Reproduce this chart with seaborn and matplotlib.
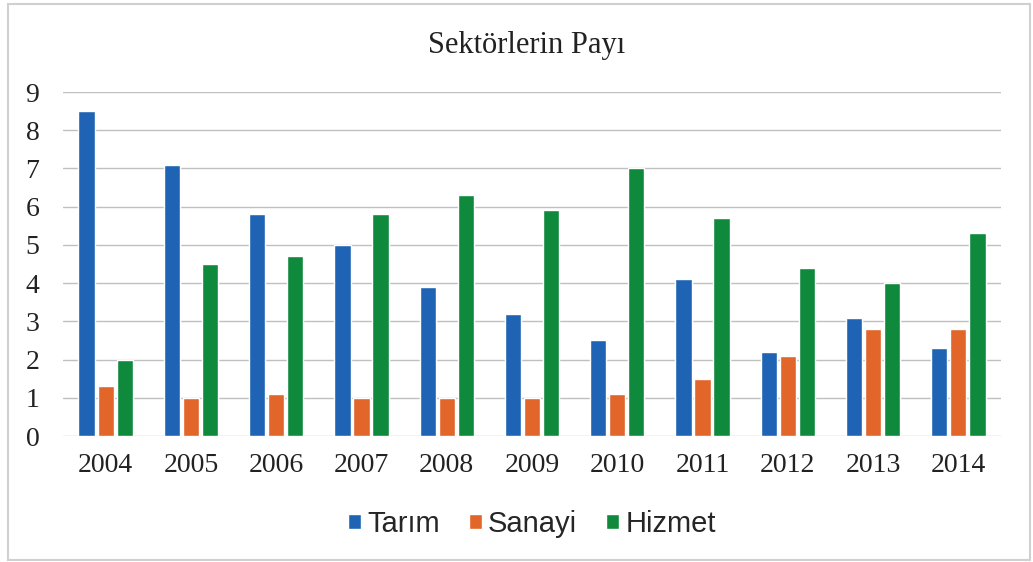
import pandas as pd
import seaborn as sns
import matplotlib.pyplot as plt
from matplotlib.patches import Rectangle

years = ["2004", "2005", "2006", "2007", "2008", "2009", "2010", "2011", "2012", "2013", "2014"]
tarim = [8.5, 7.1, 5.8, 5.0, 3.9, 3.2, 2.5, 4.1, 2.2, 3.1, 2.3]
sanayi = [1.3, 1.0, 1.1, 1.0, 1.0, 1.0, 1.1, 1.5, 2.1, 2.8, 2.8]
hizmet = [2.0, 4.5, 4.7, 5.8, 6.3, 5.9, 7.0, 5.7, 4.4, 4.0, 5.3]
sectors = ["Tarım", "Sanayi", "Hizmet"]
colors = ["#1f64b4", "#e2662a", "#0f8a3c"]

df = pd.DataFrame({"Yıl": years * 3,
                   "Pay": tarim + sanayi + hizmet,
                   "Sektör": [s for s in sectors for _ in years]})

sns.set_style("white")
plt.rcParams["font.family"] = ["Liberation Serif", "DejaVu Serif"]

fig = plt.figure(figsize=(10.33, 5.62), dpi=100)
ax = fig.add_axes([63 / 1033, 1 - 436 / 562, (1001 - 63) / 1033, (436 - 92) / 562])

sns.barplot(data=df, x="Yıl", y="Pay", hue="Sektör", palette=colors,
            width=0.67, gap=0.15, saturation=1, ax=ax)

ax.set_ylim(0, 9)
ax.set_yticks(range(10))
ax.yaxis.grid(True, color="#c0c0c0", linewidth=1)
ax.set_axisbelow(True)
for s in ax.spines.values():
    s.set_visible(False)
ax.set_xlabel("")
ax.set_ylabel("")
ax.tick_params(axis="x", length=0, pad=12, labelsize=20, colors="#222222")
ax.tick_params(axis="y", length=0, pad=17, labelsize=20, colors="#222222")

fig.text(0.51, 1 - 45 / 562, "Sektörlerin Payı", ha="center", va="center",
         fontsize=22, color="#222222")

h, l = ax.get_legend_handles_labels()
ax.legend(h, l, loc="center", bbox_to_anchor=(0.5, (436 - 524) / (436 - 92)),
          ncol=3, frameon=False, handlelength=0.45, handleheight=0.45,
          handletextpad=0.2, columnspacing=1.0,
          prop={"family": "Liberation Sans", "size": 21})

fig.patches.append(Rectangle((8 / 1033, 2 / 562), 1022 / 1033, 556 / 562,
                             transform=fig.transFigure, fill=False,
                             edgecolor="#d0d0d0", linewidth=1.5))

fig.savefig("out.png", dpi=100)
